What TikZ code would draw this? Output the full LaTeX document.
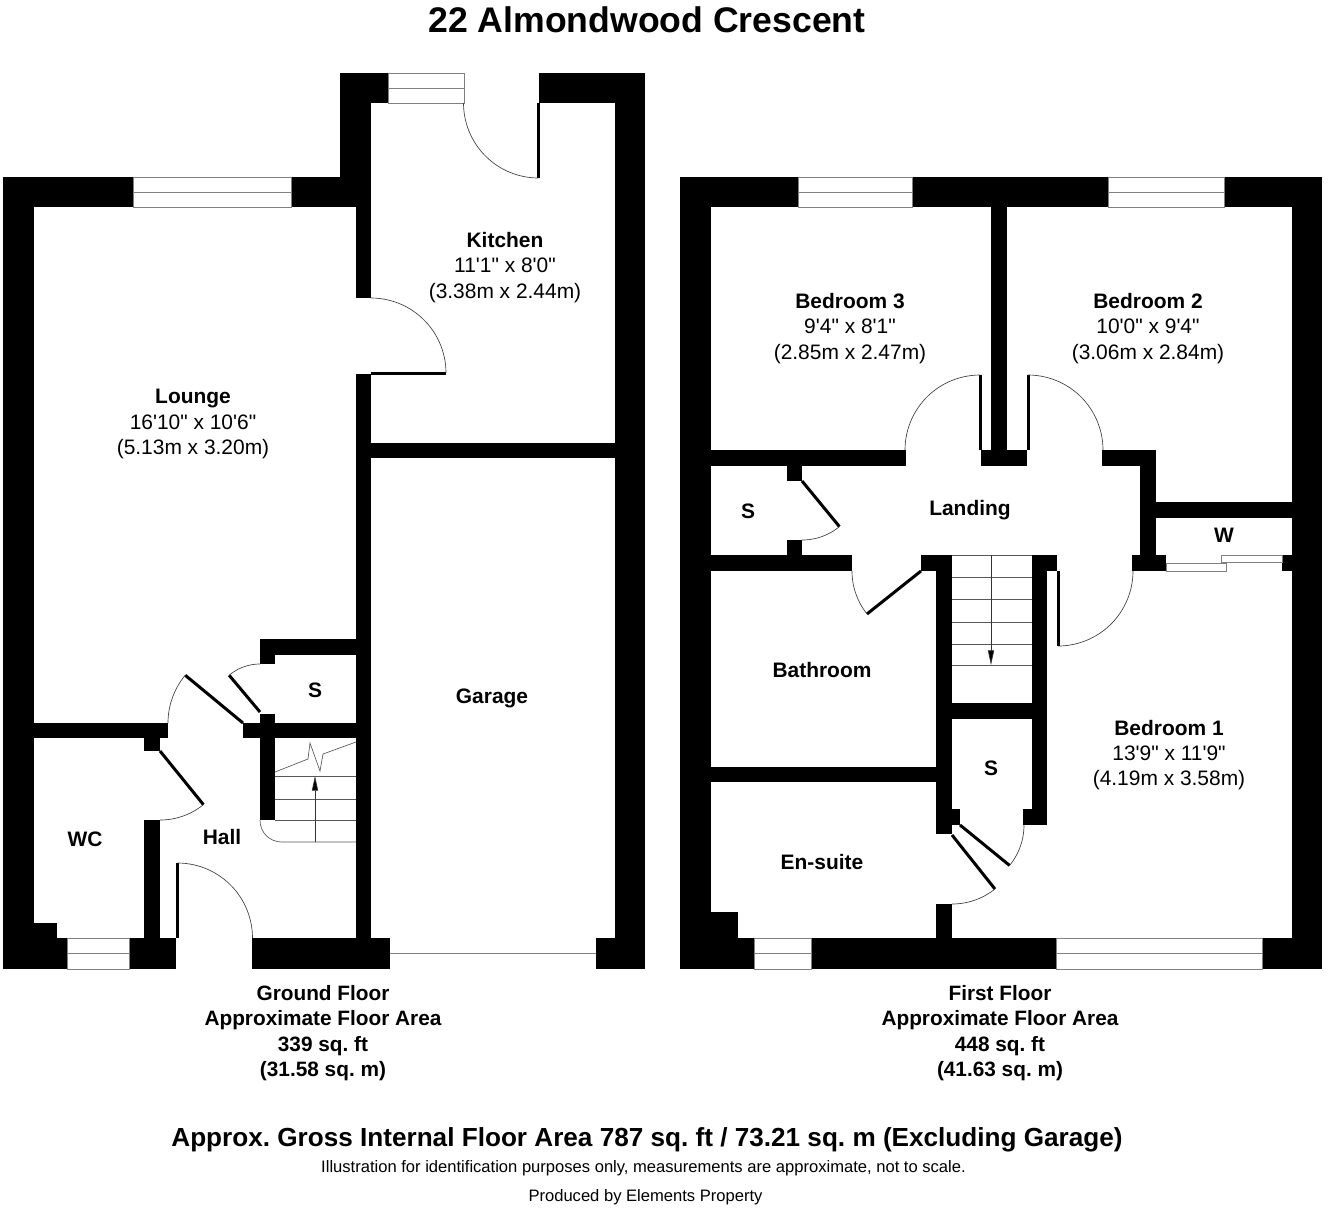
\documentclass[tikz,border=0pt]{standalone}
\usepackage{fontspec}
\setmainfont[Ligatures=TeXOff]{Liberation Sans}
\usetikzlibrary{arrows.meta}
\frenchspacing
\tikzset{
  wall/.style={fill=black},
  leaf/.style={line width=2.25pt,black},
  swing/.style={line width=0.5pt,black!75},
  pane/.style={draw=black!50,fill=white,line width=0.7pt},
  tread/.style={line width=0.5pt,black!65},
  walk/.style={line width=0.5pt,black!80,-{Triangle[length=11pt,width=4.6pt,fill=black]}},
  room/.style={align=center,inner sep=0pt,font=\fontsize{15.7}{18.9}\selectfont},
  roomb/.style={align=center,inner sep=0pt,font=\bfseries\fontsize{15.7}{18.9}\selectfont},
  capt/.style={align=center,inner sep=0pt,font=\bfseries\fontsize{15.6}{19}\selectfont},
  fine/.style={inner sep=0pt,font=\fontsize{12.43}{14}\selectfont}
}
% door: hinge x, hinge y, radius, leaf angle, arc end angle (image sense, y down)
\newcommand{\doorat}[5]{%
  \draw[leaf,line cap=butt] (#1,#2) -- ({#1+#3*cos(#4)},{#2+#3*sin(#4)});
  \draw[swing] plot[domain=#4:#5,samples=30] ({#1+#3*cos(\x)},{#2+#3*sin(\x)});
}
% window: x1 y1 x2 y2 with a middle line
\newcommand{\glazing}[4]{%
  \draw[pane] (#1,#2) rectangle (#3,#4);
  \draw[pane] (#1,{(#2+#4)/2}) -- (#3,{(#2+#4)/2});
}
\newcommand{\blk}[4]{\fill[wall] (#1,#2) rectangle (#3,#4);}
\begin{document}
\begin{tikzpicture}[x=0.75pt,y=-0.75pt]
\useasboundingbox (0,0) rectangle (1328,1208);
\fill[white] (0,0) rectangle (1328,1208);

%% ---------- Ground floor walls
\blk{3}{177}{34}{969}
\blk{3}{177}{133}{207}
\blk{291}{177}{356}{207}
\blk{340}{73}{371}{207}
\blk{340}{73}{388}{103}
\blk{539}{73}{645}{103}
\blk{615}{73}{645}{969}
\blk{356}{177}{371}{298}
\blk{356}{374}{371}{953}
\blk{371}{443}{615}{458}
\blk{252}{938}{390}{969}
\blk{596}{938}{645}{969}
\blk{3}{723}{168}{738}
\blk{144}{738}{160}{751}
\blk{144}{820}{160}{938}
\blk{34}{923}{57}{938}
\blk{3}{938}{67}{969}
\blk{129}{938}{176}{969}
\blk{243}{723}{356}{738}
\blk{260}{714}{275}{820}
\blk{260}{639}{356}{655}
\blk{260}{639}{275}{664}

%% ground windows
\glazing{133}{177}{291}{207}
\glazing{388}{73}{464}{103}
\glazing{67}{938}{129}{969}
\coordinate (gdL) at (390,953);
\coordinate (gdR) at (596,953);
\draw[pane] (gdL) -- (gdR);

%% ground doors
\doorat{538.5}{103}{75}{90}{180}
\doorat{371}{373}{75}{0}{-90}
\doorat{177.5}{938}{75}{-90}{0}
\doorat{160}{751}{69}{51}{90}
\doorat{243}{723}{75}{219.6}{180}
\doorat{260}{712}{48}{230}{270}

%% ground stairs
\coordinate (gs1a) at (275,776); \coordinate (gs1b) at (356,776);
\coordinate (gs2a) at (275,799); \coordinate (gs2b) at (356,799);
\coordinate (gs3a) at (275,820); \coordinate (gs3b) at (356,820);
\coordinate (gs4a) at (282,842); \coordinate (gs4b) at (356,842);
\coordinate (gsBot) at (315,842); \coordinate (gsTop) at (315,776);
\draw[tread] (gs1a) -- (gs1b);
\draw[tread] (gs2a) -- (gs2b);
\draw[tread] (gs3a) -- (gs3b);
\draw[tread] (gs4b) -- (gs4a) .. controls (270,842) and (260,833) .. (260,820);
\draw[tread] (275,772) -- (308,759) -- (310,743) -- (320,771) -- (323,754) -- (356,742);
\draw[walk] (gsBot) -- (gsTop);

%% ---------- First floor walls
\blk{680}{177}{711}{969}
\blk{680}{177}{798}{207}
\blk{912}{177}{1108}{207}
\blk{1224}{177}{1322}{207}
\blk{1292}{177}{1322}{969}
\blk{680}{938}{754}{969}
\blk{811}{938}{1056}{969}
\blk{1262}{938}{1322}{969}
\blk{711}{912}{738}{938}
\blk{991}{207}{1007}{450}
\blk{981}{450}{1027}{466}
\blk{711}{450}{906}{466}
\blk{1102}{450}{1156}{466}
\blk{1140}{450}{1156}{571}
\blk{1132}{555}{1166}{571}
\blk{1156}{502}{1292}{518}
\blk{1282}{555}{1292}{571}
\blk{787}{466}{802}{481}
\blk{787}{540}{802}{555}
\blk{711}{555}{852}{571}
\blk{921}{555}{952}{571}
\blk{936}{555}{952}{834}
\blk{952}{809}{960}{825}
\blk{936}{904}{952}{938}
\blk{711}{767}{936}{782}
\blk{1032}{555}{1047}{825}
\blk{1032}{555}{1057}{571}
\blk{1023}{809}{1047}{825}
\blk{936}{703}{1047}{719}

%% first windows
\glazing{798}{177}{912}{207}
\glazing{1108}{177}{1224}{207}
\glazing{754}{938}{811}{969}
\glazing{1056}{938}{1262}{969}

%% wardrobe sliding panels
\draw[pane] (1166,563) rectangle (1226,571);
\draw[pane] (1221,555) rectangle (1282,562);

%% first doors
\doorat{980}{450}{75}{270}{180}
\doorat{1028}{450}{75}{270}{360}
\doorat{802}{481}{59}{50.6}{90}
\doorat{921}{571}{69}{141.5}{180}
\doorat{1058}{571}{75}{90}{0}
\doorat{952}{835}{69}{51.5}{90}
\doorat{960}{825}{64}{39.2}{0}

%% first stairs
\coordinate (fsTop) at (991,555); \coordinate (fsBot) at (991,665);
\foreach \yy in {555,577,599,622,644,665}{
  \draw[tread] (952,\yy) -- (1032,\yy);
}
\draw[walk] (fsTop) -- (fsBot);

%% ---------- Text
\node[inner sep=0pt,font=\bfseries\fontsize{26.7}{30}\selectfont] (title) at (647,20) {22 Almondwood Crescent};
\node[room] (lounge) at (193,424) {\textbf{Lounge}\\16'10" x 10'6"\\(5.13m x 3.20m)};
\node[room] (kitchen) at (505,267.5) {\textbf{Kitchen}\\11'1" x 8'0"\\(3.38m x 2.44m)};
\node[room] (bed3) at (850,328.5) {\textbf{Bedroom 3}\\9'4" x 8'1"\\(2.85m x 2.47m)};
\node[room] (bed2) at (1148,328.5) {\textbf{Bedroom 2}\\10'0" x 9'4"\\(3.06m x 2.84m)};
\node[room] (bed1) at (1169,755) {\textbf{Bedroom 1}\\13'9" x 11'9"\\(4.19m x 3.58m)};
\node[roomb] (garage) at (492,698) {Garage};
\node[roomb] (wc) at (85,839) {WC};
\node[roomb] (hall) at (222,837) {Hall};
\node[roomb] (sa) at (315,690) {S};
\node[roomb] (landing) at (970,510) {Landing};
\node[roomb] (sb) at (748,511.5) {S};
\node[roomb] (w) at (1224,535.5) {W};
\node[roomb] (bath) at (822,670) {Bathroom};
\node[roomb] (sc) at (991,768) {S};
\node[roomb] (ensuite) at (822,862) {En-suite};
\node[capt] (gcap) at (323,1033) {Ground Floor\\Approximate Floor Area\\339 sq. ft\\(31.58 sq. m)};
\node[capt] (fcap) at (1000,1033) {First Floor\\Approximate Floor Area\\448 sq. ft\\(41.63 sq. m)};
\node[inner sep=0pt,font=\bfseries\fontsize{19.6}{22}\selectfont] (gross) at (647,1140) {Approx. Gross Internal Floor Area 787 sq. ft / 73.21 sq. m (Excluding Garage)};
\node[fine] (illus) at (643.5,1168) {Illustration for identification purposes only, measurements are approximate, not to scale.};
\node[fine] (prod) at (645.5,1197) {Produced by Elements Property};
\end{tikzpicture}
\end{document}
